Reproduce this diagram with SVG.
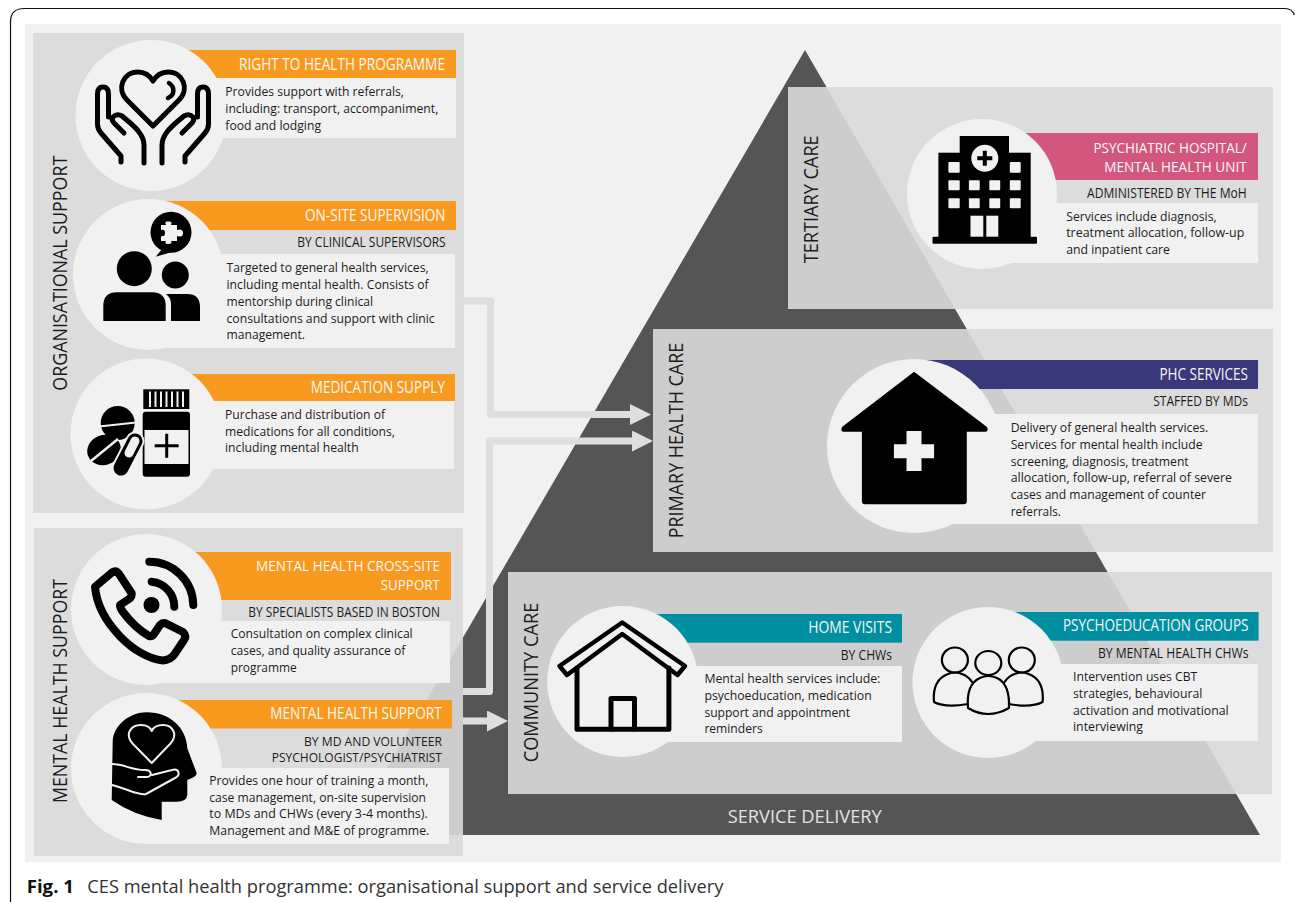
<svg xmlns="http://www.w3.org/2000/svg" width="1295" height="902" viewBox="0 0 1295 902">
<style>
text{font-family:"Open Sans","Noto Sans","Liberation Sans",sans-serif;fill:#1c1c1c}
.b{font-size:13px}
.h{font-size:15.500px;fill:#f6f6f6}
.h2{font-size:14.500px;fill:#f6f6f6}
.s{font-size:14px}
.s2{font-size:13px}
.r{font-size:20.500px}
.box{fill:#dadada;fill-opacity:.91}
.c{fill:#f1f1f1}
.o{fill:#f99a20}
.p{fill:#f1f1f1}
.ln{fill:none;stroke:#000;stroke-linecap:round;stroke-linejoin:round}
.wl{fill:none;stroke:#f1f1f1;stroke-linecap:round;stroke-linejoin:round}
.k{fill:#000}
.w{fill:#f1f1f1}
.con{fill:none;stroke:#dedede;stroke-width:7;stroke-linejoin:round}
</style>
<defs>
<marker id="ah" markerUnits="userSpaceOnUse" markerWidth="21" markerHeight="21" refX="0" refY="10.5" orient="auto"><path d="M0 0L21 10.5L0 21Z" fill="#dedede"/></marker>
<g id="hand"><path class="ln" stroke-width="5" d="M121 162V156L101 133Q97.500 129 97.500 124V94Q97.500 87 103 87Q108.500 87 108.500 94V117"/><path class="ln" stroke-width="5" d="M144 163V145C144 135 135 127 128 121L122 116Q117 113 113 117Q111 120 114 123L124 133"/></g>
<path id="pbody" d="M968 704Q945 708 934 702Q932 680 948 674Q955 671 962 674Q968 676 972 682" class="ln" stroke-width="2.200"/>
</defs>
<path d="M10.500 902V22Q10.500 8.500 24 8.500H1285Q1292 8.500 1294.500 15" fill="none" stroke="#111" stroke-width="1.200"/>
<rect x="25" y="24" width="1256" height="838" fill="#f1f1f1"/>
<path id="pyramid" d="M805 50L1260 835H348Z" fill="#555"/>
<rect class="box" x="33" y="33" width="431" height="480"/>
<rect class="box" x="34" y="528" width="429" height="328"/>
<rect class="box" x="788" y="87" width="485" height="222"/>
<rect class="box" x="653" y="329" width="620" height="223"/>
<rect class="box" x="508" y="572" width="764" height="222"/>
<g id="connectors">
<path class="con" marker-end="url(#ah)" d="M455 301H490.500V414.500H630"/>
<path class="con" marker-end="url(#ah)" d="M463 691.500H489.500V441H632"/>
<path class="con" marker-end="url(#ah)" d="M463 721H487"/>
</g>
<text id="l-org" class="r" transform="rotate(-90 66.700 390.700)" x="66.700" y="390.700" textLength="235" lengthAdjust="spacingAndGlyphs">ORGANISATIONAL SUPPORT</text>
<text id="l-mh" class="r" transform="rotate(-90 66.700 803)" x="66.700" y="803" textLength="224" lengthAdjust="spacingAndGlyphs">MENTAL HEALTH SUPPORT</text>
<text id="l-ter" class="r" transform="rotate(-90 817.600 263.300)" x="817.600" y="263.300" textLength="128" lengthAdjust="spacingAndGlyphs">TERTIARY CARE</text>
<text id="l-phc" class="r" transform="rotate(-90 682.600 538.300)" x="682.600" y="538.300" textLength="195.600" lengthAdjust="spacingAndGlyphs">PRIMARY HEALTH CARE</text>
<text id="l-com" class="r" transform="rotate(-90 538 762.300)" x="538" y="762.300" textLength="159.600" lengthAdjust="spacingAndGlyphs">COMMUNITY CARE</text>
<text id="l-sd" x="727.700" y="823.300" font-size="19" style="fill:#e2e2e2" textLength="154" lengthAdjust="spacingAndGlyphs">SERVICE DELIVERY</text>

<g id="right-to-health">
<rect class="o" x="151" y="50" width="305" height="28"/>
<rect class="p" x="151" y="78" width="305" height="60"/>
<circle class="c" cx="151" cy="115.500" r="75.500"/>
<path class="ln" stroke-width="5" d="M153 126L127 100C116 89 123 72 138 72C146 72 150 76 153 81C156 76 160 72 168 72C183 72 190 89 179 100Z"/>
<path class="ln" stroke-width="4.500" d="M169 83C175 87 175 95 168 98"/>
<use href="#hand"/><use href="#hand" transform="translate(306 0) scale(-1 1)"/>
<text class="h" x="239" y="70" textLength="206" lengthAdjust="spacingAndGlyphs">RIGHT TO HEALTH PROGRAMME</text>
<text class="b" x="225.300" y="96" textLength="178.700" lengthAdjust="spacingAndGlyphs">Provides support with referrals,</text>
<text class="b" x="225.300" y="113" textLength="213" lengthAdjust="spacingAndGlyphs">including: transport, accompaniment,</text>
<text class="b" x="225.300" y="130" textLength="95.700" lengthAdjust="spacingAndGlyphs">food and lodging</text>
</g>

<g id="on-site-supervision">
<rect class="o" x="148" y="201" width="308" height="29"/>
<rect class="p" x="148" y="254" width="307" height="94"/>
<circle class="c" cx="148.500" cy="274.500" r="75.500"/>
<circle class="k" cx="171" cy="232.300" r="20.500"/>
<path class="k" d="M163 248L155.700 256.700L172 252Z"/>
<path class="w" d="M161 225H166Q164 221 168 221.500Q173 221 171 225H177V230Q183 228 183 233Q183 238 177 236V241H171Q173 244 168 244Q164 244 166 241H161V236Q165 237 165 233Q165 229 161 230Z"/>
<circle class="k" cx="134.300" cy="268.700" r="17.500"/>
<circle class="k" cx="175.300" cy="275" r="13.500"/>
<path class="k" d="M103.300 321V306Q103.300 292.300 117 292.300H152Q165.700 292.300 165.700 306V321Z"/>
<path class="k" d="M171 321V304Q171 298 166 294H187Q200 294 200 307V321Z"/>
<text class="h" x="305" y="221" textLength="140.500" lengthAdjust="spacingAndGlyphs">ON-SITE SUPERVISION</text>
<text class="s" x="297.300" y="247" textLength="148.400" lengthAdjust="spacingAndGlyphs">BY CLINICAL SUPERVISORS</text>
<text class="b" x="226.500" y="272" textLength="202.200" lengthAdjust="spacingAndGlyphs">Targeted to general health services,</text>
<text class="b" x="226.500" y="289" textLength="202.200" lengthAdjust="spacingAndGlyphs">including mental health. Consists of</text>
<text class="b" x="226.500" y="306" textLength="146.500" lengthAdjust="spacingAndGlyphs">mentorship during clinical</text>
<text class="b" x="226.500" y="322.500" textLength="208.200" lengthAdjust="spacingAndGlyphs">consultations and support with clinic</text>
<text class="b" x="226.500" y="339" textLength="78.500" lengthAdjust="spacingAndGlyphs">management.</text>
</g>

<g id="medication-supply">
<rect class="o" x="146" y="374" width="309" height="27"/>
<rect class="p" x="146" y="401" width="308" height="68"/>
<circle class="c" cx="146" cy="434" r="75.500"/>
<rect class="k" x="143.300" y="389.300" width="46" height="19.700"/>
<path d="M150 391.500V407M155.500 391.500V407M161 391.500V407M166.500 391.500V407M172 391.500V407M177.500 391.500V407M183 391.500V407" stroke="#f1f1f1" stroke-width="2" fill="none"/>
<rect class="k" x="142.700" y="411.700" width="47.300" height="65" rx="3"/>
<rect class="w" x="144.500" y="430" width="44" height="34"/>
<path class="k" d="M165.200 433.700h3v10.500h10.500v3h-10.500v10.500h-3v-10.500h-10.500v-3h10.500z"/>
<circle class="k" cx="117.700" cy="423" r="17"/>
<path d="M99 426.500L136 422.500" stroke="#f1f1f1" stroke-width="2" fill="none"/>
<ellipse class="k" cx="104" cy="450" rx="17" ry="15" transform="rotate(-20 104 450)"/>
<path d="M91 461L118 439" stroke="#f1f1f1" stroke-width="2.500" fill="none"/>
<path d="M135 441L121 468" stroke="#f1f1f1" stroke-width="19" stroke-linecap="round" fill="none"/>
<path d="M135 441L121 468" stroke="#000" stroke-width="15" stroke-linecap="round" fill="none"/>
<path d="M135 441L129 453" stroke="#f1f1f1" stroke-width="9" stroke-linecap="round" fill="none"/>
<text class="h" x="310.700" y="393" textLength="134.300" lengthAdjust="spacingAndGlyphs">MEDICATION SUPPLY</text>
<text class="b" x="225" y="419" textLength="160" lengthAdjust="spacingAndGlyphs">Purchase and distribution of</text>
<text class="b" x="225" y="436" textLength="170" lengthAdjust="spacingAndGlyphs">medications for all conditions,</text>
<text class="b" x="225" y="452" textLength="133.700" lengthAdjust="spacingAndGlyphs">including mental health</text>
</g>

<g id="cross-site-support">
<rect class="o" x="146" y="552" width="305" height="48"/>
<rect class="p" x="146" y="621" width="304" height="62"/>
<circle class="c" cx="146.500" cy="609.500" r="75.500"/>
<path class="ln" stroke-width="8" d="M95 586.700L112 572.500Q116 570 119 574L131.700 593.300Q132 597 129 599L120 605Q120 608 123 612Q135 628 149 636Q152 637 154 634L160 625Q163 622 167 624L183 632Q187 636 184 640L174 655Q170 660 163 660.500C135 658 98 622 95 586.700Z"/>
<circle class="k" cx="151.500" cy="605" r="8"/>
<path class="ln" stroke-width="8" d="M151.700 581.700A25 25 0 0 1 174.300 606.700"/>
<path class="ln" stroke-width="8" d="M149.300 561.700A44 44 0 0 1 193.300 605"/>
<text class="h2" x="256" y="571" textLength="184" lengthAdjust="spacingAndGlyphs">MENTAL HEALTH CROSS-SITE</text>
<text class="h2" x="380.700" y="590" textLength="59.300" lengthAdjust="spacingAndGlyphs">SUPPORT</text>
<text class="s" x="248.300" y="617" textLength="191.700" lengthAdjust="spacingAndGlyphs">BY SPECIALISTS BASED IN BOSTON</text>
<text class="b" x="230.700" y="638.300" textLength="182" lengthAdjust="spacingAndGlyphs">Consultation on complex clinical</text>
<text class="b" x="230.700" y="655.300" textLength="174.600" lengthAdjust="spacingAndGlyphs">cases, and quality assurance of</text>
<text class="b" x="230.700" y="671.700" textLength="66" lengthAdjust="spacingAndGlyphs">programme</text>
</g>

<g id="mental-health-support">
<rect class="o" x="146" y="700" width="306" height="28.500"/>
<rect class="p" x="146" y="768" width="303" height="76"/>
<circle class="c" cx="146.500" cy="768.500" r="75.500"/>
<path class="k" d="M111.700 800L112.700 741.700C113.300 725 130 712.300 146.700 712.300C170 712.300 186.700 728.300 187.300 748.300L196.700 773.300Q196.700 776.700 187.300 780L187.300 795Q186.700 801.700 176.700 801.700L161.700 801.700L161.700 820Q133 815 111.700 800Z"/>
<path class="wl" stroke-width="2" d="M151.700 763L133 744C124 734 131 725 141 725C146 725 150 727 151.700 731C153.400 727 157 725 163 725C172 725 179 734 170 744Z"/>
<path class="wl" stroke-width="2" d="M112 764C125 764 130 770 145 770C152 770 153 777 146 777H138M152 775L172 770C179 768 181 775 175 778L146 794C140 796 130 790 112 785"/>
<text class="h" x="270.300" y="719" textLength="171.400" lengthAdjust="spacingAndGlyphs">MENTAL HEALTH SUPPORT</text>
<text class="s2" x="304" y="746" textLength="138" lengthAdjust="spacingAndGlyphs">BY MD AND VOLUNTEER</text>
<text class="s2" x="271.700" y="762.300" textLength="170.300" lengthAdjust="spacingAndGlyphs">PSYCHOLOGIST/PSYCHIATRIST</text>
<text class="b" x="209.300" y="785.300" textLength="219" lengthAdjust="spacingAndGlyphs">Provides one hour of training a month,</text>
<text class="b" x="209.300" y="802.300" textLength="216.700" lengthAdjust="spacingAndGlyphs">case management, on-site supervision</text>
<text class="b" x="209.300" y="818.300" textLength="218.400" lengthAdjust="spacingAndGlyphs">to MDs and CHWs (every 3-4 months).</text>
<text class="b" x="209.300" y="835.300" textLength="220" lengthAdjust="spacingAndGlyphs">Management and M&amp;E of programme.</text>
</g>

<g id="psychiatric-hospital">
<rect x="982" y="133" width="276" height="47" fill="#d2567e"/>
<rect class="p" x="982" y="203" width="276" height="60"/>
<circle class="c" cx="982" cy="194" r="75"/>
<rect class="k" x="932.500" y="236.700" width="104.500" height="7" rx="1"/>
<rect class="k" x="938.400" y="152.700" width="92.300" height="85"/>
<rect class="k" x="959.700" y="136" width="49.300" height="18"/>
<circle class="w" cx="984.800" cy="158.300" r="13.500"/>
<path class="k" d="M982.800 150.800h4v5.500h5.500v4h-5.500v5.500h-4v-5.500h-5.500v-4h5.500z"/>
<g class="w">
<rect x="948.400" y="162" width="11.300" height="10.700" rx="1"/><rect x="1009.800" y="162" width="10.900" height="10.700" rx="1"/>
<rect x="948.400" y="180.300" width="11.300" height="10" rx="1"/><rect x="968.900" y="180.300" width="10.800" height="10" rx="1"/><rect x="989.300" y="180.300" width="10.900" height="10" rx="1"/><rect x="1009.800" y="180.300" width="10.900" height="10" rx="1"/>
<rect x="948.400" y="198.300" width="11.300" height="10" rx="1"/><rect x="968.900" y="198.300" width="10.800" height="10" rx="1"/><rect x="989.300" y="198.300" width="10.900" height="10" rx="1"/><rect x="1009.800" y="198.300" width="10.900" height="10" rx="1"/>
<rect x="970.500" y="215.700" width="12.800" height="21"/><rect x="986.300" y="215.700" width="12" height="21"/>
</g>
<text class="h2" x="1093.400" y="153.300" textLength="153.400" lengthAdjust="spacingAndGlyphs">PSYCHIATRIC HOSPITAL/</text>
<text class="h2" x="1104.300" y="172.300" textLength="142.500" lengthAdjust="spacingAndGlyphs">MENTAL HEALTH UNIT</text>
<text class="s" x="1087" y="198.300" textLength="159.800" lengthAdjust="spacingAndGlyphs">ADMINISTERED BY THE MoH</text>
<text class="b" x="1066.200" y="221" textLength="150.500" lengthAdjust="spacingAndGlyphs">Services include diagnosis,</text>
<text class="b" x="1066.200" y="237.300" textLength="178.100" lengthAdjust="spacingAndGlyphs">treatment allocation, follow-up</text>
<text class="b" x="1066.200" y="254" textLength="103.800" lengthAdjust="spacingAndGlyphs">and inpatient care</text>
</g>

<g id="phc-services">
<rect x="914" y="360" width="344" height="29" fill="#38387a"/>
<rect class="p" x="914" y="414" width="344" height="110"/>
<circle class="c" cx="914" cy="446" r="87"/>
<path class="k" d="M914.100 371.700L987 427Q989 431.700 985 431.700H966.800V501.300Q966.800 504.300 963.800 504.300H864.900Q861.900 504.300 861.900 501.300V431.700H844Q840 431.700 842 427Z"/>
<path class="w" d="M906.500 431h15v13.300h12.600v14h-12.600v12.700h-15v-12.700h-12.600v-14h12.600z"/>
<text class="h" x="1159.400" y="380" textLength="88.600" lengthAdjust="spacingAndGlyphs">PHC SERVICES</text>
<text class="s" x="1153.200" y="406" textLength="94.800" lengthAdjust="spacingAndGlyphs">STAFFED BY MDs</text>
<text class="b" x="1010.700" y="432.300" textLength="197.600" lengthAdjust="spacingAndGlyphs">Delivery of general health services.</text>
<text class="b" x="1010.700" y="449.300" textLength="191.800" lengthAdjust="spacingAndGlyphs">Services for mental health include</text>
<text class="b" x="1010.700" y="466.300" textLength="178" lengthAdjust="spacingAndGlyphs">screening, diagnosis, treatment</text>
<text class="b" x="1010.700" y="482.300" textLength="221.300" lengthAdjust="spacingAndGlyphs">allocation, follow-up, referral of severe</text>
<text class="b" x="1010.700" y="499.300" textLength="195.300" lengthAdjust="spacingAndGlyphs">cases and management of counter</text>
<text class="b" x="1010.700" y="516" textLength="50.300" lengthAdjust="spacingAndGlyphs">referrals.</text>
</g>

<g id="home-visits">
<rect x="623" y="614" width="279" height="28.700" fill="#008fa1"/>
<rect class="p" x="623" y="666" width="279" height="76"/>
<circle class="c" cx="622.700" cy="681.500" r="75.500"/>
<path class="ln" stroke-width="4.500" d="M622.200 622.500L685 666L677.500 675L622.200 634L567 675L559.500 666Z"/>
<path class="ln" stroke-width="5" d="M577 668V729.200H668.900V668"/>
<path class="ln" stroke-width="5" d="M611 729V698.500H634.500V729"/>
<text class="h" x="808.300" y="633.300" textLength="83.700" lengthAdjust="spacingAndGlyphs">HOME VISITS</text>
<text class="s" x="840.800" y="660.300" textLength="51.200" lengthAdjust="spacingAndGlyphs">BY CHWs</text>
<text class="b" x="704.400" y="683.300" textLength="175.900" lengthAdjust="spacingAndGlyphs">Mental health services include:</text>
<text class="b" x="704.400" y="700.300" textLength="167.300" lengthAdjust="spacingAndGlyphs">psychoeducation, medication</text>
<text class="b" x="704.400" y="717.300" textLength="145.600" lengthAdjust="spacingAndGlyphs">support and appointment</text>
<text class="b" x="704.400" y="733.300" textLength="58.300" lengthAdjust="spacingAndGlyphs">reminders</text>
</g>

<g id="psychoeducation-groups">
<rect x="988" y="612" width="270.600" height="28.700" fill="#008fa1"/>
<rect class="p" x="988" y="664" width="270" height="77"/>
<circle class="c" cx="988" cy="682.500" r="75.500"/>
<ellipse class="ln" stroke-width="2.200" cx="954.900" cy="660" rx="13" ry="12.500"/>
<ellipse class="ln" stroke-width="2.200" cx="1021.800" cy="660" rx="13" ry="12.500"/>
<use href="#pbody"/><use href="#pbody" transform="translate(1976.600 0) scale(-1 1)"/>
<ellipse class="ln" stroke-width="2.200" cx="988.300" cy="663" rx="13" ry="12"/>
<path class="ln" stroke-width="2.200" style="fill:#f1f1f1" d="M968 708Q966 684 980 678Q988 674 997 678Q1010 684 1009 708Q988 720 968 708Z"/>
<text class="h" x="1062.900" y="631.300" textLength="185.600" lengthAdjust="spacingAndGlyphs">PSYCHOEDUCATION GROUPS</text>
<text class="s" x="1097.900" y="658.300" textLength="150.600" lengthAdjust="spacingAndGlyphs">BY MENTAL HEALTH CHWs</text>
<text class="b" x="1073" y="681.300" textLength="124.300" lengthAdjust="spacingAndGlyphs">Intervention uses CBT</text>
<text class="b" x="1073" y="698.300" textLength="129.300" lengthAdjust="spacingAndGlyphs">strategies, behavioural</text>
<text class="b" x="1073" y="715.300" textLength="155.700" lengthAdjust="spacingAndGlyphs">activation and motivational</text>
<text class="b" x="1073" y="731" textLength="70" lengthAdjust="spacingAndGlyphs">interviewing</text>
</g>

<text id="cap-1" x="26.700" y="893" font-size="18.500" font-weight="700" style="fill:#111" textLength="47.300" lengthAdjust="spacingAndGlyphs">Fig. 1</text>
<text id="cap-2" x="87.300" y="893" font-size="18.500" style="fill:#333" textLength="636" lengthAdjust="spacingAndGlyphs">CES mental health programme: organisational support and service delivery</text>
</svg>
